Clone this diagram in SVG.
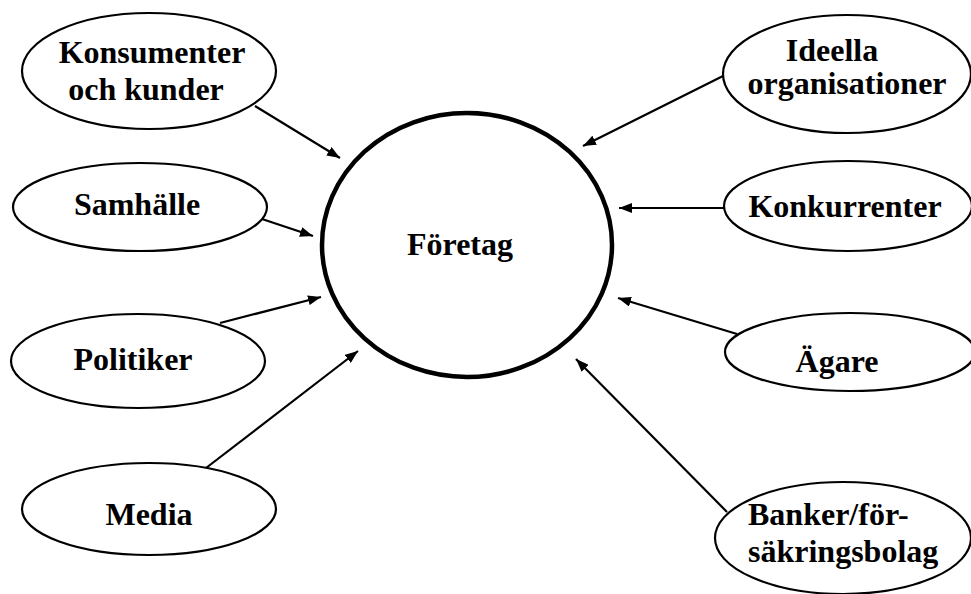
<svg xmlns="http://www.w3.org/2000/svg" width="971" height="594" viewBox="0 0 971 594">
  <style>
    .node { fill: #ffffff; stroke: #000000; stroke-width: 2.2; }
    .core { fill: #ffffff; stroke: #000000; stroke-width: 4.5; }
    .label { font-family: "Liberation Serif", "Times New Roman", serif; font-weight: bold; font-size: 32px; fill: #000000; }
    .mid { text-anchor: middle; }
    .link { stroke: #000000; stroke-width: 2.2; fill: none; marker-end: url(#head); }
  </style>
  <defs>
    <marker id="head" viewBox="0 0 13 10" refX="13" refY="5" markerWidth="13" markerHeight="10" markerUnits="userSpaceOnUse" orient="auto">
      <path d="M0,0 L13,5 L0,10 z" fill="#000000"/>
    </marker>
  </defs>
  <rect width="971" height="594" fill="#ffffff"/>

  <g id="connectors">
    <line class="link" x1="255" y1="106" x2="340" y2="158"/>
    <line class="link" x1="723" y1="76" x2="583" y2="146"/>
    <line class="link" x1="262" y1="219" x2="313" y2="236"/>
    <line class="link" x1="220" y1="323" x2="321" y2="297"/>
    <line class="link" x1="206" y1="468" x2="358" y2="351"/>
    <line class="link" x1="725" y1="208" x2="619" y2="208"/>
    <line class="link" x1="737" y1="334" x2="618" y2="298"/>
    <line class="link" x1="727" y1="512" x2="576" y2="359"/>
  </g>

  <g id="foretag">
    <ellipse class="core" cx="467" cy="245" rx="145" ry="132"/>
    <text class="label mid" x="460" y="255">Företag</text>
  </g>

  <g id="konsumenter">
    <ellipse class="node" cx="149" cy="71" rx="127" ry="58"/>
    <text class="label mid" x="152" y="63">Konsumenter</text>
    <text class="label mid" x="146" y="100">och kunder</text>
  </g>

  <g id="samhalle">
    <ellipse class="node" cx="140" cy="207" rx="127" ry="44"/>
    <text class="label mid" x="137" y="215">Samhälle</text>
  </g>

  <g id="politiker">
    <ellipse class="node" cx="138" cy="361" rx="127" ry="47"/>
    <text class="label mid" x="133" y="370">Politiker</text>
  </g>

  <g id="media">
    <ellipse class="node" cx="149" cy="509" rx="127" ry="46"/>
    <text class="label mid" x="149" y="525">Media</text>
  </g>

  <g id="ideella">
    <ellipse class="node" cx="847" cy="74" rx="124" ry="59"/>
    <text class="label mid" x="832" y="61">Ideella</text>
    <text class="label mid" x="847" y="94">organisationer</text>
  </g>

  <g id="konkurrenter">
    <ellipse class="node" cx="848" cy="206" rx="124" ry="45"/>
    <text class="label mid" x="845" y="217">Konkurrenter</text>
  </g>

  <g id="agare">
    <ellipse class="node" cx="850" cy="352" rx="125" ry="39"/>
    <text class="label mid" x="837" y="372">Ägare</text>
  </g>

  <g id="banker">
    <ellipse class="node" cx="843" cy="538" rx="128" ry="56"/>
    <text class="label" x="748" y="525">Banker/för-</text>
    <text class="label" x="748" y="562">säkringsbolag</text>
  </g>
</svg>
